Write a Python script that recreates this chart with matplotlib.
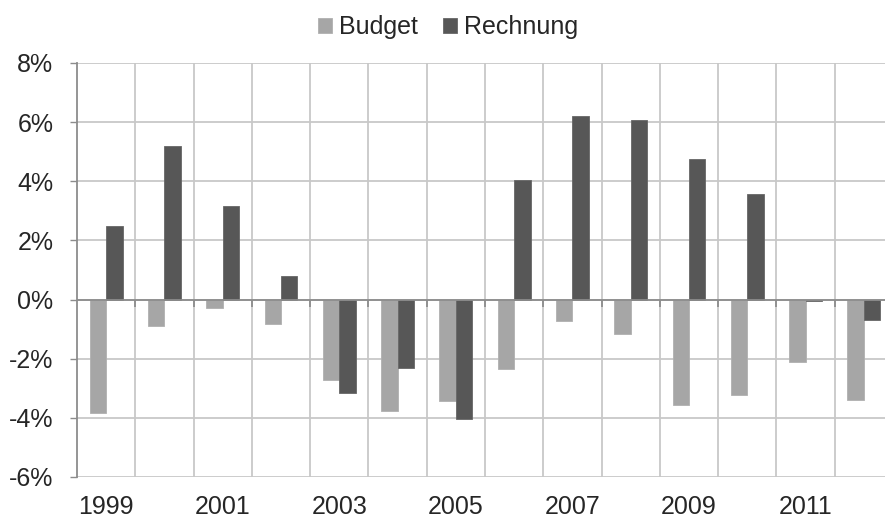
import numpy as np
import matplotlib
matplotlib.use("Agg")
import matplotlib.pyplot as plt
from matplotlib.ticker import FuncFormatter, FixedLocator

# data (percent)
years = list(range(1999, 2013))
budget = [-3.85, -0.91, -0.29, -0.82, -2.72, -3.78, -3.44,
          -2.36, -0.74, -1.18, -3.55, -3.23, -2.12, -3.40]
rechnung = [2.50, 5.19, 3.17, 0.81, -3.15, -2.33, -4.03,
            4.05, 6.20, 6.07, 4.76, 3.58, -0.06, -0.69]
yticks = [-6, -4, -2, 0, 2, 4, 6, 8]
xlabel_years = [1999, 2001, 2003, 2005, 2007, 2009, 2011]

plt.rcParams["font.family"] = ["Liberation Sans", "DejaVu Sans"]
TEXT = "#262626"
GRID = "#c8c8c8"
AXIS = "#8c8c8c"
FS = 18

fig = plt.figure(figsize=(8.85, 5.2), dpi=100)
# axes runs a bit past the right edge, as in the original (last category clipped)
ax = fig.add_axes([77 / 885, 1 - 477 / 520, 816 / 885, 414 / 520])

x = np.arange(len(years))
w = 0.283
ax.bar(x - w / 2, budget, width=w, color="#a6a6a6", edgecolor="#b0b0b0",
       linewidth=0.6, label="Budget", zorder=3)
ax.bar(x + w / 2, rechnung, width=w, color="#575757", edgecolor="#666666",
       linewidth=0.6, label="Rechnung", zorder=3)

ax.set_xlim(-0.5, len(years) - 0.5)
ax.set_ylim(-6, 8)

# y axis
ax.set_yticks(yticks)
ax.yaxis.set_major_formatter(FuncFormatter(lambda v, p: f"{v:.0f}%"))
ax.tick_params(axis="y", length=5, width=1, color=AXIS, pad=12,
               labelsize=FS, labelcolor=TEXT)
ax.grid(axis="y", color=GRID, linewidth=1.3, zorder=0)

# x axis: labels every other year, grid lines between categories
ax.set_xticks([years.index(y) for y in xlabel_years])
ax.set_xticklabels([str(y) for y in xlabel_years])
ax.tick_params(axis="x", which="major", length=0, pad=13,
               labelsize=FS, labelcolor=TEXT)
ax.xaxis.set_minor_locator(FixedLocator(np.arange(0.5, len(years) - 0.5, 1)))
ax.tick_params(axis="x", which="minor", length=0)
ax.grid(axis="x", which="minor", color=GRID, linewidth=1.3, zorder=0)

for s in ["top", "right", "bottom"]:
    ax.spines[s].set_visible(False)
ax.spines["left"].set_color(AXIS)
ax.spines["left"].set_linewidth(1.3)

# category axis at zero with small tick marks
ax.axhline(0, color=AXIS, linewidth=1.3, zorder=4)
ax.vlines(np.arange(0.5, len(years) - 0.5, 1), -0.25, 0, color=AXIS,
          linewidth=1.3, zorder=4)

fig.legend(loc="center", bbox_to_anchor=(448 / 885, 1 - 27 / 520), ncol=2,
           frameon=False, fontsize=FS, handlelength=0.55, handleheight=0.55,
           handletextpad=0.3, columnspacing=1.0, labelcolor=TEXT)

fig.savefig("out.png", dpi=100)
